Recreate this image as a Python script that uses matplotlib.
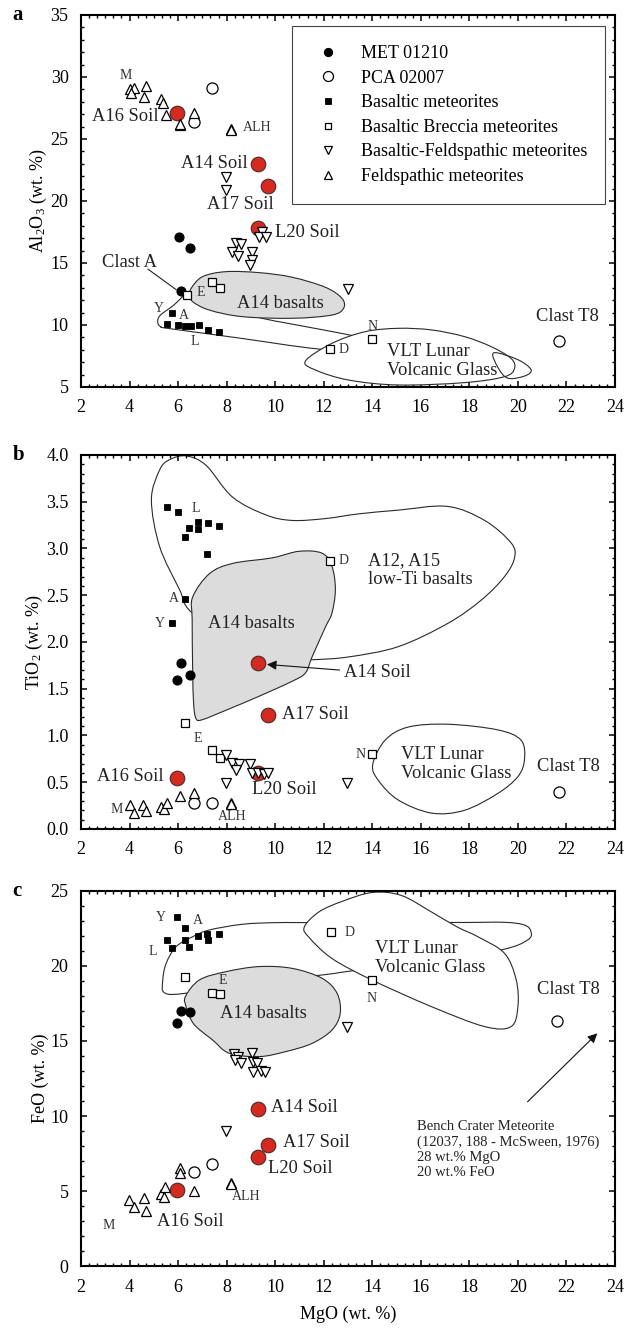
import matplotlib
matplotlib.use('Agg')
import matplotlib.pyplot as plt
from matplotlib.lines import Line2D
from matplotlib.patches import PathPatch
from matplotlib.path import Path
from matplotlib.ticker import AutoMinorLocator, FormatStrFormatter, MultipleLocator

plt.rcParams['font.family'] = 'Liberation Serif'
plt.rcParams['mathtext.fontset'] = 'custom'
plt.rcParams['mathtext.rm'] = 'Liberation Serif'
plt.rcParams['mathtext.it'] = 'Liberation Serif:italic'
plt.rcParams['mathtext.bf'] = 'Liberation Serif:bold'

# soils (MgO and the three oxides, wt.%)
soil_names = ['A16 Soil', 'A14 Soil', 'A17 Soil', 'L20 Soil']
soil_mgo = [5.95, 9.3, 9.7, 9.3]
soil_al2o3 = [27.1, 23.0, 21.2, 17.8]
soil_tio2 = [0.55, 1.77, 1.22, 0.60]
soil_feo = [5.1, 10.5, 8.1, 7.3]

# (MgO, Al2O3)
met_al = [(6.03, 17.1), (6.51, 16.2), (6.13, 12.7)]
pca_al = [(7.4, 29.1), (6.67, 26.4), (21.7, 8.7)]
bas_al = [(5.74, 11.0), (5.55, 10.1), (5.99, 10.0), (6.3, 9.95), (6.55, 9.9),
          (6.85, 10.0), (7.25, 9.6), (7.7, 9.45)]
brec_al = [(6.37, 12.4), (7.38, 13.5), (7.72, 13.0), (12.27, 8.1), (13.98, 8.9)]
bf_al = [(7.97, 21.9), (7.97, 20.9), (8.38, 16.6), (8.59, 16.5), (8.24, 15.9),
         (8.48, 15.6), (9.06, 15.9), (9.03, 15.2), (8.97, 14.8), (9.47, 17.5),
         (9.34, 17.1), (9.61, 17.1), (12.98, 12.9)]
feld_al = [(4.01, 29.0), (4.17, 29.1), (4.08, 28.7), (4.69, 29.3), (4.6, 28.4),
           (5.3, 28.2), (5.37, 27.9), (5.51, 26.9), (6.08, 26.1), (6.08, 26.2),
           (6.67, 27.1), (8.17, 25.8), (8.17, 25.7)]

# (MgO, TiO2)
met_ti = [(6.13, 1.77), (6.51, 1.65), (5.95, 1.59)]
pca_ti = [(6.67, 0.28), (7.4, 0.28), (21.7, 0.4)]
bas_ti = [(5.55, 3.44), (5.99, 3.39), (6.47, 3.22), (6.84, 3.28), (6.84, 3.21),
          (7.25, 3.27), (7.7, 3.24), (6.3, 3.12), (7.18, 2.94), (6.29, 2.46),
          (5.74, 2.2)]
brec_ti = [(6.29, 1.13), (7.4, 0.85), (7.72, 0.76), (12.27, 2.87), (13.98, 0.8)]
bf_ti = [(7.97, 0.79), (8.24, 0.71), (8.52, 0.69), (8.38, 0.63), (8.95, 0.69),
         (9.06, 0.6), (9.3, 0.6), (9.54, 0.59), (9.7, 0.6), (7.97, 0.49),
         (12.96, 0.49)]
feld_ti = [(4.01, 0.26), (4.17, 0.17), (4.56, 0.26), (4.69, 0.19), (5.3, 0.23),
           (5.44, 0.21), (5.54, 0.28), (6.08, 0.35), (6.67, 0.39), (8.17, 0.28),
           (8.17, 0.27)]

# (MgO, FeO)
met_fe = [(6.1, 17.0), (6.51, 16.9), (5.95, 16.2)]
pca_fe = [(6.67, 6.25), (7.4, 6.8), (21.63, 16.3)]
bas_fe = [(5.95, 23.25), (6.29, 22.5), (6.84, 22.0), (7.19, 22.1), (7.7, 22.1),
          (5.55, 21.7), (6.3, 21.73), (7.25, 21.73), (5.74, 21.18), (6.47, 21.29)]
brec_fe = [(6.29, 19.25), (7.38, 18.2), (7.72, 18.1), (12.3, 22.25), (13.98, 19.07)]
bf_fe = [(8.31, 14.13), (8.45, 13.95), (8.35, 13.73), (8.59, 13.5), (9.03, 14.18),
         (9.09, 13.62), (9.27, 13.5), (9.1, 12.95), (9.4, 13.02), (9.58, 12.9),
         (12.96, 15.95), (7.97, 9.0)]
feld_fe = [(3.98, 4.4), (4.17, 3.91), (4.58, 4.51), (4.69, 3.69), (5.28, 4.78),
           (5.4, 4.58), (5.48, 5.29), (6.08, 6.51), (6.08, 6.2), (6.67, 5.0),
           (8.17, 5.55), (8.17, 5.45)]

# literature fields (outline vertices)
lowti_al = [(6.54, 12.7), (7.5, 12.2), (8.5, 11.3), (9.34, 10.6), (11.3, 9.85),
            (13.3, 9.1), (14.5, 8.5), (14.5, 7.8), (11.8, 8.06), (8.5, 8.95),
            (5.6, 9.72), (5.3, 9.85), (5.17, 10.14), (5.24, 10.73), (5.79, 11.55)]
vlt_al = [(11.25, 7.1), (12.34, 8.52), (13.71, 9.46), (15.07, 9.73), (16.44, 9.6),
          (17.8, 9.06), (18.9, 8.25), (19.72, 7.3), (19.86, 6.5), (19.45, 5.83),
          (17.8, 5.35), (15.07, 5.16), (13.02, 5.56), (11.66, 6.37)]
vlt2_al = [(19.0, 7.75), (20.0, 7.2), (20.54, 6.4), (20.3, 5.9), (19.6, 5.7),
           (19.2, 6.5)]
a14_al = [(6.54, 12.96), (7.01, 13.9), (7.97, 14.3), (9.34, 14.22), (10.7, 13.85),
          (12.07, 13.04), (12.75, 12.15), (12.82, 11.35), (12.34, 10.8),
          (10.7, 10.54), (8.65, 10.67), (7.29, 11.2), (6.6, 11.88), (6.5, 12.42)]

lowti_ti = [(6.33, 3.99), (7.15, 3.89), (8.24, 3.55), (9.61, 3.36), (10.7, 3.3),
            (12.07, 3.32), (13.43, 3.37), (15.07, 3.41), (17.1, 3.45), (18.63, 3.3),
            (19.72, 3.06), (19.86, 2.9), (19.45, 2.7), (18.5, 2.45), (17.12, 2.2),
            (15.07, 1.95), (13.02, 1.84), (11.52, 1.81), (10.0, 1.8), (8.5, 1.95),
            (6.54, 2.32), (6.06, 2.56), (5.24, 3.02), (4.9, 3.52), (5.24, 3.84),
            (5.65, 3.95)]
vlt_ti = [(14.02, 0.69), (14.53, 0.95), (15.48, 1.09), (17.12, 1.12), (19.17, 1.06),
          (20.13, 0.95), (20.27, 0.74), (20.0, 0.56), (19.17, 0.38), (17.8, 0.2),
          (16.44, 0.17), (15.07, 0.31), (14.25, 0.52)]
a14_ti = [(6.58, 2.24), (6.6, 2.48), (7.29, 2.73), (8.24, 2.84), (9.88, 2.9),
          (10.98, 2.97), (11.93, 2.95), (12.34, 2.81), (12.48, 2.56), (12.34, 2.31),
          (12.07, 2.16), (11.52, 1.84), (11.25, 1.67), (10.7, 1.58), (9.34, 1.42),
          (7.97, 1.27), (7.01, 1.17), (6.74, 1.18), (6.64, 1.34), (6.6, 1.7)]

lowti_fe = [(5.45, 18.2), (5.37, 19.07), (5.51, 20.18), (5.92, 21.29), (6.6, 21.95),
            (7.29, 22.4), (8.65, 22.78), (10.02, 22.89), (11.25, 22.89), (15.07, 22.9),
            (17.8, 22.9), (19.45, 22.91), (20.27, 22.73), (20.54, 22.29), (20.4, 21.73),
            (19.3, 21.07), (16.0, 20.2), (13.43, 19.73), (11.93, 19.4), (9.5, 19.0),
            (6.4, 18.2)]
vlt_fe = [(11.2, 22.6), (11.8, 23.6), (12.75, 24.3), (14.0, 24.9), (15.2, 24.7),
          (16.44, 23.6), (17.5, 22.6), (18.35, 21.95), (19.45, 20.84), (19.93, 19.07),
          (20.0, 17.29), (19.72, 15.96), (18.63, 15.96), (16.44, 17.29), (13.98, 19.07),
          (12.34, 20.5), (11.4, 21.9)]
a14_fe = [(6.3, 17.96), (6.88, 19.07), (7.97, 19.62), (9.34, 19.96), (10.7, 19.84),
          (11.93, 19.18), (12.55, 18.18), (12.68, 16.84), (12.34, 15.73), (11.52, 14.84),
          (10.43, 14.29), (9.34, 13.96), (8.11, 14.18), (7.42, 15.07), (6.74, 15.96),
          (6.47, 16.62), (6.33, 17.29)]

GROUPS = [
    ('MET 01210', dict(marker='o', ms=6.5, mfc='k', mec='k', mew=0.8)),
    ('PCA 02007', dict(marker='o', ms=8, mfc='white', mec='k', mew=0.9)),
    ('Basaltic meteorites', dict(marker='s', ms=4.5, mfc='k', mec='k', mew=0.6)),
    ('Basaltic Breccia meteorites', dict(marker='s', ms=5.3, mfc='white', mec='k', mew=0.9)),
    ('Basaltic-Feldspathic meteorites', dict(marker='v', ms=6.5, mfc='white', mec='k', mew=0.9)),
    ('Feldspathic meteorites', dict(marker='^', ms=6.5, mfc='white', mec='k', mew=0.9)),
]
SOIL_STYLE = dict(marker='o', ms=10.5, mfc='#d42a20', mec='#4a2a26', mew=0.8)
LABEL = dict(fontsize=13.3, color='#222222', zorder=7)
SMALL = dict(fontsize=10, color='#333333', zorder=7)


def smooth_path(pts):
    # closed Catmull-Rom outline written as cubic Bezier segments
    n = len(pts)
    verts = [pts[0]]
    codes = [Path.MOVETO]
    for i in range(n):
        p0, p1 = pts[i - 1], pts[i]
        p2, p3 = pts[(i + 1) % n], pts[(i + 2) % n]
        c1 = (p1[0] + (p2[0] - p0[0]) / 6, p1[1] + (p2[1] - p0[1]) / 6)
        c2 = (p2[0] - (p3[0] - p1[0]) / 6, p2[1] - (p3[1] - p1[1]) / 6)
        verts += [c1, c2, p2]
        codes += [Path.CURVE4] * 3
    verts.append(pts[0])
    codes.append(Path.CLOSEPOLY)
    return Path(verts, codes)


def draw_field(ax, pts, face, z):
    ax.add_patch(PathPatch(smooth_path(pts), facecolor=face, edgecolor='none', zorder=z))
    ax.add_patch(PathPatch(smooth_path(pts), facecolor='none', edgecolor='#2a2a2a',
                           lw=0.8, zorder=z + 0.05))


def draw_points(ax, groups, soil_vals):
    ax.plot(soil_mgo, soil_vals, ls='none', zorder=4, **SOIL_STYLE)
    for (name, style), pts in zip(GROUPS, groups):
        xs = [p[0] for p in pts]
        ys = [p[1] for p in pts]
        ax.plot(xs, ys, ls='none', zorder=5, **style)


def style_axes(ax, ymax, ymaj, ymin_n, ylabel, ymin=0):
    ax.set_xlim(2, 24)
    ax.set_ylim(ymin, ymax)
    ax.xaxis.set_major_locator(MultipleLocator(2))
    ax.xaxis.set_minor_locator(AutoMinorLocator(6))
    ax.yaxis.set_major_locator(MultipleLocator(ymaj))
    ax.yaxis.set_minor_locator(AutoMinorLocator(ymin_n))
    ax.tick_params(which='both', direction='in', top=True, right=True,
                   labelsize=13, pad=9)
    ax.tick_params(which='major', length=4, width=1.1)
    ax.tick_params(which='minor', length=2.5, width=1.0)
    for sp in ax.spines.values():
        sp.set_linewidth(1.5)
    ax.set_ylabel(ylabel, fontsize=13, labelpad=1)


def two_lines(ax, x, y, s):
    ax.text(x, y, s, ha='left', va='center', linespacing=1.15, **LABEL)


fig = plt.figure(figsize=(6.26, 13.39), dpi=100)
ax_a = fig.add_axes([0.1294, 0.7110, 0.853, 0.2778])
ax_b = fig.add_axes([0.1294, 0.3809, 0.853, 0.2793])
ax_c = fig.add_axes([0.1294, 0.0545, 0.853, 0.2801])

# ---- a: Al2O3 ----
ax = ax_a
draw_field(ax, lowti_al, 'white', 1)
ax.add_patch(PathPatch(smooth_path(vlt_al), facecolor='white', edgecolor='none', zorder=2))
ax.add_patch(PathPatch(smooth_path(vlt2_al), facecolor='white', edgecolor='none', zorder=2))
ax.add_patch(PathPatch(smooth_path(vlt2_al), facecolor='none', edgecolor='#2a2a2a', lw=0.8, zorder=2.1))
ax.add_patch(PathPatch(smooth_path(vlt_al), facecolor='none', edgecolor='#2a2a2a', lw=0.8, zorder=2.1))
draw_field(ax, a14_al, '#dcdcdc', 3)
draw_points(ax, [met_al, pca_al, bas_al, brec_al, bf_al, feld_al], soil_al2o3)
style_axes(ax, 35, 5, 5, 'Al$_2$O$_3$ (wt. %)', ymin=5)
ax.text(5.2, 26.8, 'A16 Soil', ha='right', va='center', **LABEL)
ax.text(8.86, 23.0, 'A14 Soil', ha='right', va='center', **LABEL)
ax.text(8.56, 19.7, 'A17 Soil', ha='center', va='center', **LABEL)
ax.text(10.0, 17.45, 'L20 Soil', ha='left', va='center', **LABEL)
ax.text(4.0, 15.05, 'Clast A', ha='center', va='center', **LABEL)
ax.plot([4.76, 5.92], [14.5, 12.85], color='#222222', lw=0.8, zorder=6)
ax.text(22.04, 10.67, 'Clast T8', ha='center', va='center', **LABEL)
ax.text(10.22, 11.75, 'A14 basalts', ha='center', va='center', **LABEL)
two_lines(ax, 14.6, 7.1, 'VLT Lunar\nVolcanic Glass')
ax.text(3.83, 30.1, 'M', ha='center', va='center', **SMALL)
ax.text(8.65, 25.9, 'ALH', ha='left', va='center', **SMALL)
ax.text(6.94, 12.6, 'E', ha='center', va='center', **SMALL)
ax.text(5.2, 11.35, 'Y', ha='center', va='center', **SMALL)
ax.text(6.22, 10.75, 'A', ha='center', va='center', **SMALL)
ax.text(6.67, 8.65, 'L', ha='center', va='center', **SMALL)
ax.text(12.82, 8.0, 'D', ha='center', va='center', **SMALL)
ax.text(14.0, 9.9, 'N', ha='center', va='center', **SMALL)

handles = [Line2D([], [], ls='none', **dict(style, ms=style['ms'] * 0.9)) for _, style in GROUPS]
leg = ax.legend(handles, [n for n, _ in GROUPS], loc='upper left',
                bbox_to_anchor=(0.395, 0.503, 0.586, 0.467), mode='expand',
                fontsize=13, frameon=True, fancybox=False, framealpha=1,
                edgecolor='#444444', borderpad=1.05, labelspacing=0.42,
                handlelength=1.9, handletextpad=0.85, borderaxespad=0)
leg.get_frame().set_linewidth(0.8)
leg.set_zorder(8)

# ---- b: TiO2 ----
ax = ax_b
draw_field(ax, lowti_ti, 'white', 1)
draw_field(ax, vlt_ti, 'white', 2)
draw_field(ax, a14_ti, '#dcdcdc', 3)
draw_points(ax, [met_ti, pca_ti, bas_ti, brec_ti, bf_ti, feld_ti], soil_tio2)
style_axes(ax, 4.0, 0.5, 5, 'TiO$_2$ (wt. %)')
ax.yaxis.set_major_formatter(FormatStrFormatter('%.1f'))
ax.text(5.4, 0.56, 'A16 Soil', ha='right', va='center', **LABEL)
ax.text(10.36, 0.42, 'L20 Soil', ha='center', va='center', **LABEL)
ax.text(10.27, 1.22, 'A17 Soil', ha='left', va='center', **LABEL)
ax.text(12.82, 1.67, 'A14 Soil', ha='left', va='center', **LABEL)
ax.annotate('', xy=(9.66, 1.76), xytext=(12.65, 1.70),
            arrowprops=dict(arrowstyle='-|>', color='#111111', lw=0.8,
                            mutation_scale=14, shrinkA=0, shrinkB=0), zorder=6)
two_lines(ax, 13.84, 2.77, 'A12, A15\nlow-Ti basalts')
ax.text(9.0, 2.2, 'A14 basalts', ha='center', va='center', **LABEL)
two_lines(ax, 15.2, 0.69, 'VLT Lunar\nVolcanic Glass')
ax.text(22.1, 0.67, 'Clast T8', ha='center', va='center', **LABEL)
ax.text(6.71, 3.43, 'L', ha='center', va='center', **SMALL)
ax.text(5.82, 2.46, 'A', ha='center', va='center', **SMALL)
ax.text(5.24, 2.2, 'Y', ha='center', va='center', **SMALL)
ax.text(12.8, 2.87, 'D', ha='center', va='center', **SMALL)
ax.text(6.81, 0.97, 'E', ha='center', va='center', **SMALL)
ax.text(13.5, 0.8, 'N', ha='center', va='center', **SMALL)
ax.text(3.46, 0.21, 'M', ha='center', va='center', **SMALL)
ax.text(8.21, 0.13, 'ALH', ha='center', va='center', **SMALL)

# ---- c: FeO ----
ax = ax_c
draw_field(ax, lowti_fe, 'white', 1)
draw_field(ax, vlt_fe, 'white', 2)
draw_field(ax, a14_fe, '#dcdcdc', 3)
draw_points(ax, [met_fe, pca_fe, bas_fe, brec_fe, bf_fe, feld_fe], soil_feo)
style_axes(ax, 25, 5, 5, 'FeO (wt. %)')
ax.set_xlabel('MgO (wt. %)', fontsize=13, labelpad=7)
ax.text(9.84, 10.6, 'A14 Soil', ha='left', va='center', **LABEL)
ax.text(10.33, 8.22, 'A17 Soil', ha='left', va='center', **LABEL)
ax.text(9.7, 6.47, 'L20 Soil', ha='left', va='center', **LABEL)
ax.text(6.51, 3.0, 'A16 Soil', ha='center', va='center', **LABEL)
ax.text(9.5, 16.84, 'A14 basalts', ha='center', va='center', **LABEL)
two_lines(ax, 14.12, 20.55, 'VLT Lunar\nVolcanic Glass')
ax.text(22.1, 18.4, 'Clast T8', ha='center', va='center', **LABEL)
ax.text(15.83, 9.75, 'Bench Crater Meteorite\n(12037, 188 - McSween, 1976)\n'
        '28 wt.% MgO\n20 wt.% FeO', ha='left', va='top', fontsize=10.5,
        color='#222222', linespacing=1.22, zorder=7)
ax.annotate('', xy=(23.27, 15.51), xytext=(20.4, 10.95),
            arrowprops=dict(arrowstyle='-|>', color='#111111', lw=0.8,
                            mutation_scale=14, shrinkA=0, shrinkB=0), zorder=6)
ax.text(5.28, 23.25, 'Y', ha='center', va='center', **SMALL)
ax.text(6.81, 23.0, 'A', ha='center', va='center', **SMALL)
ax.text(4.96, 20.95, 'L', ha='center', va='center', **SMALL)
ax.text(7.83, 19.0, 'E', ha='center', va='center', **SMALL)
ax.text(12.86, 22.2, 'D', ha='left', va='center', **SMALL)
ax.text(13.98, 17.85, 'N', ha='center', va='center', **SMALL)
ax.text(3.16, 2.69, 'M', ha='center', va='center', **SMALL)
ax.text(8.79, 4.62, 'ALH', ha='center', va='center', **SMALL)

for ax, letter in [(ax_a, 'a'), (ax_b, 'b'), (ax_c, 'c')]:
    ax.text(-0.128, 1.0, letter, transform=ax.transAxes, fontsize=15,
            fontweight='bold', ha='left', va='center')

fig.savefig('out.png', dpi=100)
